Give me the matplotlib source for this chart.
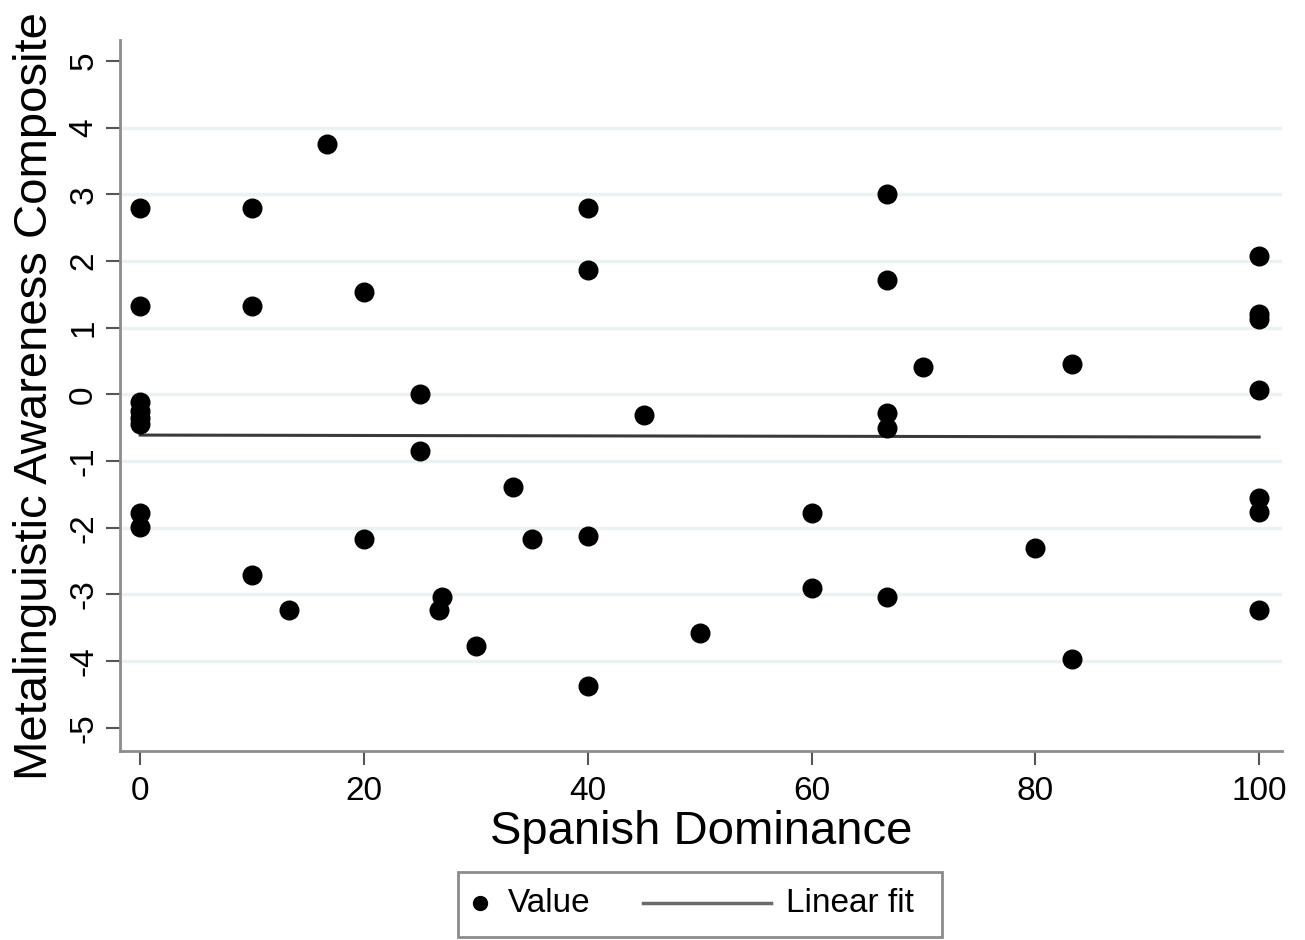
import matplotlib
matplotlib.use("Agg")
import matplotlib.pyplot as plt
from matplotlib.lines import Line2D
from matplotlib.patches import Rectangle

plt.rcParams['font.family'] = ['Liberation Sans', 'DejaVu Sans']

# Spanish dominance (x) and metalinguistic awareness composite (y)
dominance = [0, 0, 0, 0, 0, 0, 0, 0,
             10, 10, 10, 13.3, 16.7, 20, 20, 25, 25,
             26.7, 27, 30, 33.3, 35,
             40, 40, 40, 40, 45, 50, 60, 60,
             66.7, 66.7, 66.7, 66.7, 66.7, 70, 80, 83.3, 83.3,
             100, 100, 100, 100, 100, 100, 100]
awareness = [2.79, 1.33, -0.12, -0.25, -0.35, -0.45, -1.78, -1.99,
             2.79, 1.33, -2.71, -3.24, 3.76, 1.53, -2.17, 0.01, -0.85,
             -3.24, -3.04, -3.78, -1.39, -2.17,
             2.79, 1.86, -2.13, -4.38, -0.31, -3.58, -1.78, -2.91,
             3.0, 1.72, -0.28, -0.51, -3.04, 0.41, -2.31, 0.46, -3.97,
             2.07, 1.21, 1.13, 0.07, -1.56, -1.77, -3.24]

# linear fit line
fit_x = [0, 100]
fit_y = [-0.61, -0.64]

x_ticks = [0, 20, 40, 60, 80, 100]
y_ticks = [-5, -4, -3, -2, -1, 0, 1, 2, 3, 4, 5]

fig = plt.figure(figsize=(13.05, 9.4), dpi=100)
ax = fig.add_axes([0.092, 0.201, 0.890, 0.756])

# light horizontal grid (not at the extreme ticks)
for g in y_ticks[1:-1]:
    ax.axhline(g, color='#eaf2f4', lw=2.5, zorder=0)

ax.scatter(dominance, awareness, s=180, color='black', zorder=3)
ax.plot(fit_x, fit_y, color='#3a3a3a', lw=2.2, zorder=2)

ax.set_xlim(-1.8, 102)
ax.set_ylim(-5.35, 5.31)
ax.set_xticks(x_ticks)
ax.set_yticks(y_ticks)
ax.set_yticklabels([str(v) for v in y_ticks], rotation=90, va='center')

for side in ['top', 'right']:
    ax.spines[side].set_visible(False)
for side in ['left', 'bottom']:
    ax.spines[side].set_color('#8c8c8c')
    ax.spines[side].set_linewidth(2)

ax.tick_params(axis='both', colors='#555555', labelcolor='black', labelsize=24, width=1.5)
ax.tick_params(axis='x', length=10, pad=8)
ax.tick_params(axis='y', length=10, pad=5)

ax.set_xlabel('Spanish Dominance', fontsize=34, va='center')
ax.xaxis.set_label_coords(0.5, -0.114)
ax.set_ylabel('Metalinguistic Awareness Composite', fontsize=34, va='center')
ax.yaxis.set_label_coords(-0.073, 0.5)

# legend box below the axes
fig.patches.append(Rectangle((0.351, 0.003), 0.371, 0.069, transform=fig.transFigure,
                             facecolor='white', edgecolor='#8c8c8c', lw=2))
fig.lines.append(Line2D([0.368], [0.039], transform=fig.transFigure, marker='o',
                        markersize=10, color='black', linestyle='none'))
fig.text(0.389, 0.039, 'Value', fontsize=24, va='center', ha='left')
fig.lines.append(Line2D([0.493, 0.591], [0.039, 0.039], transform=fig.transFigure,
                        color='#6a6a6a', lw=2.5))
fig.text(0.602, 0.039, 'Linear fit', fontsize=24, va='center', ha='left')

fig.savefig('out.png', dpi=100)
